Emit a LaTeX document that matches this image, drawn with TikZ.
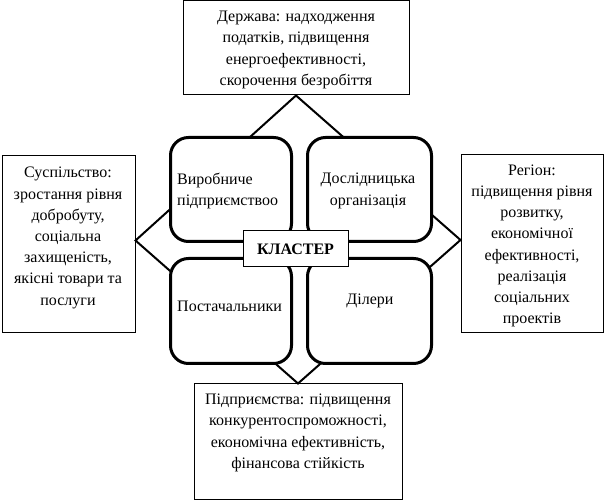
\documentclass[tikz,border=0pt]{standalone}
\usepackage{fontspec}
\setmainfont{Liberation Serif}
\begin{document}
\begin{tikzpicture}[x=1pt,y=-1pt]
\tikzset{
  every node/.style={font=\fontsize{16}{21.2}\selectfont},
  outerbox/.style={draw, line width=1pt, inner sep=0pt},
  roundbox/.style={draw, line width=3pt, rounded corners=18pt, fill=white, inner sep=0pt},
  centerbox/.style={draw, line width=1pt, fill=white, inner sep=0pt, font=\fontsize{16}{21}\selectfont\bfseries},
  txt/.style={align=center, inner sep=0pt},
  link/.style={line width=2pt, line join=miter}
}
\useasboundingbox (0,0) rectangle (608,502);
% outer boxes
\node[outerbox, minimum width=226pt, minimum height=94pt] (state) at (296,48) {};
\node[outerbox, minimum width=133pt, minimum height=177pt] (society) at (68.5,244.5) {};
\node[outerbox, minimum width=142pt, minimum height=178pt] (region) at (532,244) {};
\node[outerbox, minimum width=208pt, minimum height=115pt] (firms) at (298,441.5) {};
% diamond connectors
\draw[link] (state.south) -- ([yshift=4pt]region.west) -- (firms.north) -- ([yshift=4pt]society.east) -- cycle;
% cluster members
\node[roundbox, minimum width=121pt, minimum height=104pt] (prod) at (231,189.5) {};
\node[roundbox, minimum width=124pt, minimum height=104pt] (research) at (369.5,189.5) {};
\node[roundbox, minimum width=121pt, minimum height=105pt] (suppliers) at (231,311) {};
\node[roundbox, minimum width=124pt, minimum height=105pt] (dealers) at (369.5,311) {};
\node[centerbox, minimum width=105pt, minimum height=36pt] (cluster) at (295.5,249) {КЛАСТЕР};
% texts
\node[txt] (statetext) at (296,50) {Держава: надходження\\податків, підвищення\\енергоефективності,\\скорочення безробіття};
\node[txt] (societytext) at (68,238) {Суспільство:\\зростання рівня\\добробуту,\\соціальна\\захищеність,\\якісні товари та\\послуги};
\node[txt] (regiontext) at (532,246) {Регіон:\\підвищення рівня\\розвитку,\\економічної\\ефективності,\\реалізація\\соціальних\\проектів};
\node[txt] (firmstext) at (298,433) {Підприємства: підвищення\\конкурентоспроможності,\\економічна ефективність,\\фінансова стійкість};
\node[txt, align=left, anchor=west] (prodtext) at (177,191) {Виробниче\\підприємствоо};
\node[txt] (researchtext) at (368,191) {Дослідницька\\організація};
\node[txt, anchor=west] (supplierstext) at (177,306) {Постачальники};
\node[txt] (dealerstext) at (370,301) {Ділери};
\end{tikzpicture}
\end{document}
